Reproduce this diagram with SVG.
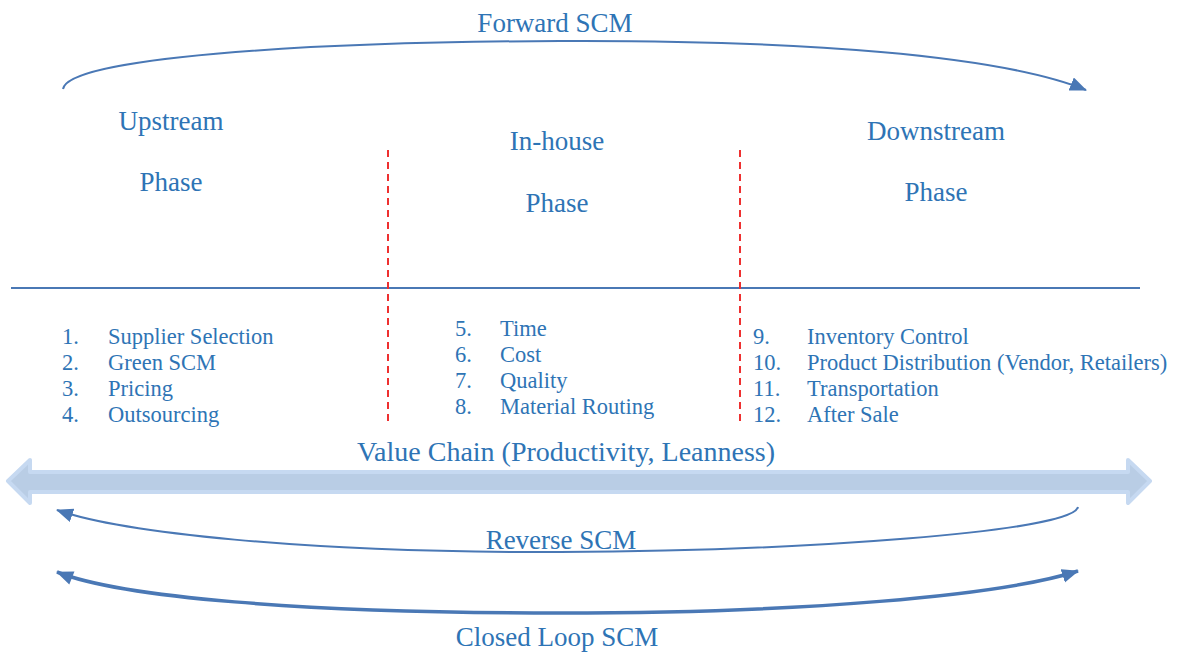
<svg xmlns="http://www.w3.org/2000/svg" width="1179" height="653" viewBox="0 0 1179 653">
<style>
text{font-family:"Liberation Serif","Times New Roman",serif;fill:#2e74b5}
.h{font-size:27px;text-anchor:middle}
.l{font-size:22.5px}
.c{fill:none;stroke:#4a78b5;stroke-width:2}
.d{stroke:#ee3030;stroke-width:2;stroke-dasharray:7,5}
</style>
<defs>
<marker id="ah" markerUnits="userSpaceOnUse" markerWidth="20" markerHeight="16" refX="16" refY="7" orient="auto">
<path d="M0,0 L17,7 L0,14 Z" fill="#4a78b5"/>
</marker>
<marker id="ahs" markerUnits="userSpaceOnUse" markerWidth="20" markerHeight="16" refX="1" refY="7" orient="auto">
<path d="M17,0 L0,7 L17,14 Z" fill="#4a78b5"/>
</marker>
</defs>
<g id="lines">
<line x1="11" y1="288" x2="1140" y2="288" stroke="#4a78b5" stroke-width="2"/>
<line class="d" x1="388" y1="150" x2="388" y2="424"/>
<line class="d" x1="740" y1="150" x2="740" y2="424"/>
</g>
<g id="upstream">
<text class="h" x="171" y="130">Upstream</text>
<text class="h" x="171" y="191">Phase</text>
<text class="l" x="62" y="344">1.</text><text class="l" x="108" y="344">Supplier Selection</text>
<text class="l" x="62" y="370">2.</text><text class="l" x="108" y="370">Green SCM</text>
<text class="l" x="62" y="396">3.</text><text class="l" x="108" y="396">Pricing</text>
<text class="l" x="62" y="422">4.</text><text class="l" x="108" y="422">Outsourcing</text>
</g>
<g id="inhouse">
<text class="h" x="557" y="150">In-house</text>
<text class="h" x="557" y="212">Phase</text>
<text class="l" x="455" y="336">5.</text><text class="l" x="500" y="336">Time</text>
<text class="l" x="455" y="362">6.</text><text class="l" x="500" y="362">Cost</text>
<text class="l" x="455" y="388">7.</text><text class="l" x="500" y="388">Quality</text>
<text class="l" x="455" y="414">8.</text><text class="l" x="500" y="414">Material Routing</text>
</g>
<g id="downstream">
<text class="h" x="936" y="140">Downstream</text>
<text class="h" x="936" y="201">Phase</text>
<text class="l" x="753" y="344">9.</text><text class="l" x="807" y="344">Inventory Control</text>
<text class="l" x="753" y="370">10.</text><text class="l" x="807" y="370">Product Distribution (Vendor, Retailers)</text>
<text class="l" x="753" y="396">11.</text><text class="l" x="807" y="396">Transportation</text>
<text class="l" x="753" y="422">12.</text><text class="l" x="807" y="422">After Sale</text>
</g>
<g id="valuechain">
<polygon points="8,481 30,460 30,472 1128,472 1128,460 1150,481 1128,503 1128,492 30,492 30,503" fill="#b9cde5" stroke="#c6d9f1" stroke-width="4" stroke-linejoin="round"/>
<text class="h" x="566" y="461" style="font-size:28px">Value Chain (Productivity, Leanness)</text>
</g>
<g id="connectors">
<path class="c" d="M63,89 C68,58 300,42 560,41 C800,40 1000,55 1086,90" marker-end="url(#ah)"/>
<path class="c" d="M1078,507 C1072,532 800,551 560,552 C300,553 120,532 57,510" marker-end="url(#ah)"/>
<path class="c" style="stroke-width:3.5" d="M57,572 C120,597 300,613 560,613 C800,613 1000,596 1078,571" marker-start="url(#ahs)" marker-end="url(#ah)"/>
</g>
<g id="labels">
<text class="h" x="555" y="32">Forward SCM</text>
<text class="h" x="561" y="549">Reverse SCM</text>
<text class="h" x="557" y="646">Closed Loop SCM</text>
</g>
</svg>
